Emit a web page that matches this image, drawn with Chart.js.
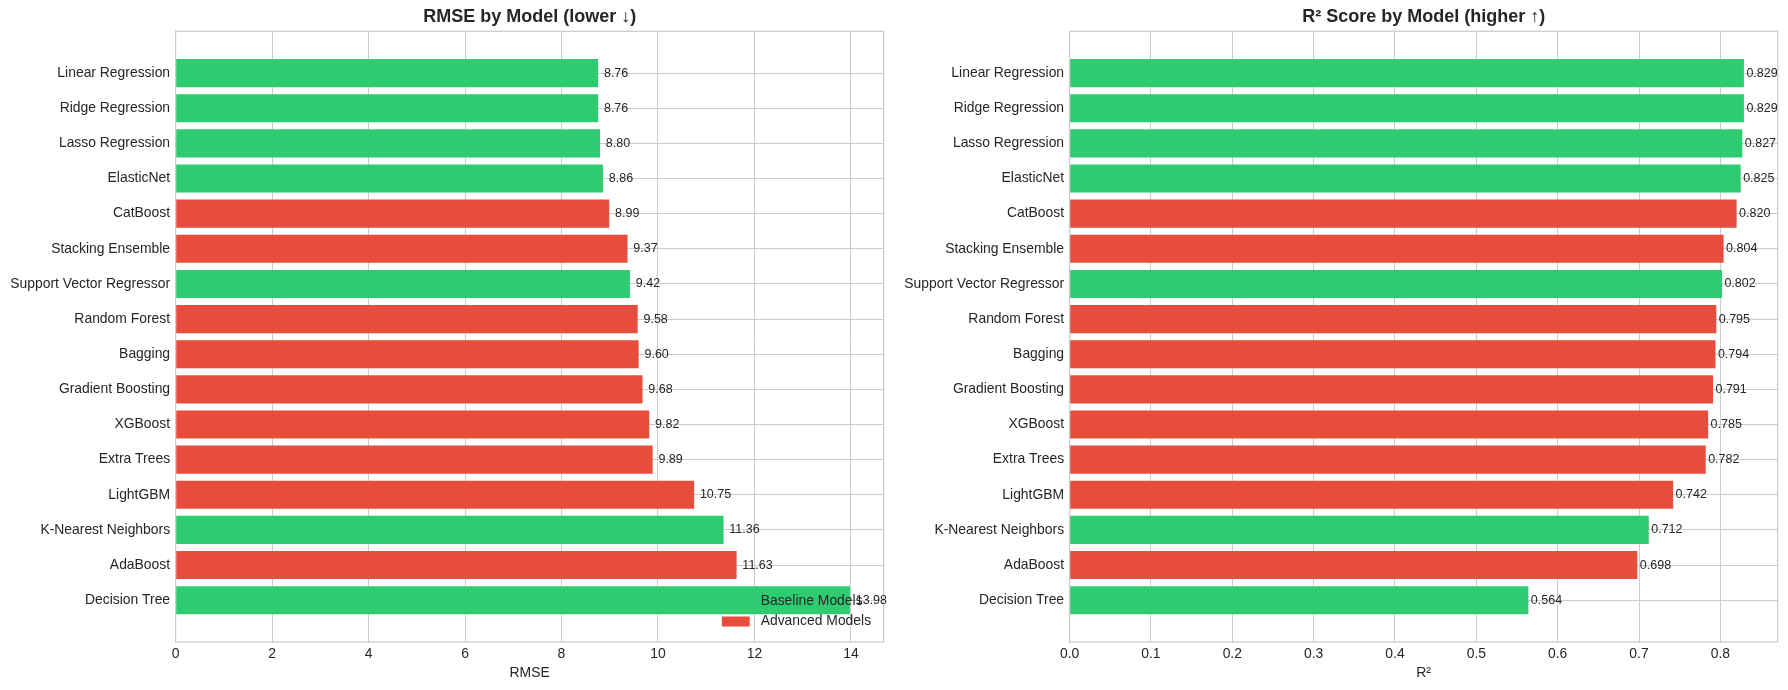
<!DOCTYPE html>
<html>
<head>
<meta charset="utf-8">
<script src="https://cdn.jsdelivr.net/npm/chart.js@4.4.0/dist/chart.umd.min.js"></script>
<style>
    body { margin: 0; background: #ffffff; }
    #wrap { position: relative; width: 1788px; height: 690px; }
    canvas { position: absolute; top: 0; }
</style>
</head>
<body>
<div id="wrap">
    <canvas id="rmse-chart" width="894" height="690" style="left:0"></canvas>
    <canvas id="r2-chart" width="894" height="690" style="left:894px"></canvas>
</div>
<script>
// 模型名称
const models = [
    'Linear Regression', 'Ridge Regression', 'Lasso Regression', 'ElasticNet',
    'CatBoost', 'Stacking Ensemble', 'Support Vector Regressor', 'Random Forest',
    'Bagging', 'Gradient Boosting', 'XGBoost', 'Extra Trees',
    'LightGBM', 'K-Nearest Neighbors', 'AdaBoost', 'Decision Tree'
];
// RMSE 数值
const rmseValues = [8.76, 8.76, 8.80, 8.86, 8.99, 9.37, 9.42, 9.58, 9.60, 9.68, 9.82, 9.89, 10.75, 11.36, 11.63, 13.98];
// R² 数值
const r2Values = [0.829, 0.829, 0.827, 0.825, 0.820, 0.804, 0.802, 0.795, 0.794, 0.791, 0.785, 0.782, 0.742, 0.712, 0.698, 0.564];
// 是否为基础模型
const isBaseline = [true, true, true, true, false, false, true, false, false, false, false, false, false, true, false, true];
// 图例
const legendLabels = ['Baseline Models', 'Advanced Models'];

const GREEN = '#2ecc71';
const RED = '#e74c3c';
const TEXT = '#262626';
const GRID = '#cccccc';
const FONT = "'Liberation Sans', Arial, sans-serif";

const barColors = isBaseline.map(b => b ? GREEN : RED);

// 边框 + 数值标签
const frameAndLabels = {
    id: 'frameAndLabels',
    afterDatasetsDraw(chart, args, opts) {
        const ctx = chart.ctx;
        const area = chart.chartArea;
        ctx.save();
        ctx.strokeStyle = GRID;
        ctx.lineWidth = 1.25;
        ctx.strokeRect(area.left, area.top, area.right - area.left, area.bottom - area.top);

        const xScale = chart.scales.x;
        const meta = chart.getDatasetMeta(0);
        const values = chart.data.datasets[0].data;
        ctx.fillStyle = TEXT;
        ctx.font = '12.5px ' + FONT;
        ctx.textAlign = 'left';
        ctx.textBaseline = 'middle';
        meta.data.forEach((bar, i) => {
            const v = values[i].x;
            const x = xScale.getPixelForValue(v + opts.offset);
            ctx.fillText(opts.format(v), x, bar.y);
        });
        ctx.restore();
    }
};

// 图例(画在绘图区右下角)
const cornerLegend = {
    id: 'cornerLegend',
    afterDraw(chart, args, opts) {
        if (!opts.show) return;
        const ctx = chart.ctx;
        const area = chart.chartArea;
        ctx.save();
        ctx.font = '13.9px ' + FONT;
        const textW = Math.max(...legendLabels.map(t => ctx.measureText(t).width));
        const textLeft = area.right - 12.6 - textW;
        const handleLeft = textLeft - 11 - 27.8;
        const rows = [area.bottom - 41, area.bottom - 20.5];
        const colors = [GREEN, RED];
        legendLabels.forEach((label, i) => {
            ctx.fillStyle = colors[i];
            ctx.fillRect(handleLeft, rows[i] - 5, 27.8, 10);
            ctx.fillStyle = TEXT;
            ctx.textAlign = 'left';
            ctx.textBaseline = 'middle';
            ctx.fillText(label, textLeft, rows[i]);
        });
        ctx.restore();
    }
};

function createBarChart(canvasId, values, title, axisTitle, xMax, step, tickFormat, labelFormat, labelOffset, showLegend) {
    const canvas = document.getElementById(canvasId);

    return new Chart(canvas, {
        type: 'bar',
        data: {
            datasets: [{
                data: values.map((v, i) => ({ x: v, y: i })),
                backgroundColor: barColors,
                borderWidth: 0,
                categoryPercentage: 1,
                barPercentage: 0.8
            }]
        },
        options: {
            indexAxis: 'y',
            responsive: false,
            animation: false,
            devicePixelRatio: 1,
            layout: {
                padding: { left: 0, right: 10.3, top: 0, bottom: 0 }
            },
            scales: {
                x: {
                    type: 'linear',
                    min: 0,
                    max: xMax,
                    border: { display: false },
                    grid: { color: GRID, lineWidth: 1, drawTicks: false },
                    ticks: {
                        stepSize: step,
                        includeBounds: false,
                        padding: 4,
                        color: TEXT,
                        font: { family: FONT, size: 13.9 },
                        callback: tickFormat
                    },
                    title: {
                        display: true,
                        text: axisTitle,
                        color: TEXT,
                        font: { family: FONT, size: 13.9 },
                        padding: { top: 0, bottom: 8 }
                    },
                    afterFit(scale) { scale.height = 48; }
                },
                y: {
                    type: 'linear',
                    reverse: true,
                    offset: false,
                    bounds: 'data',
                    min: -1.19,
                    max: 16.19,
                    border: { display: false },
                    grid: { color: GRID, lineWidth: 1, drawTicks: false, offset: false },
                    ticks: {
                        padding: 5.5,
                        color: TEXT,
                        font: { family: FONT, size: 13.9 },
                        callback: value => models[value]
                    },
                    afterBuildTicks(scale) {
                        scale.ticks = models.map((m, i) => ({ value: i }));
                    },
                    afterFit(scale) { scale.width = 175.6; }
                }
            },
            plugins: {
                legend: { display: false },
                tooltip: { enabled: false },
                title: {
                    display: true,
                    text: title,
                    fullSize: false,
                    color: TEXT,
                    font: { family: FONT, size: 18, weight: 'bold', lineHeight: 1.2 },
                    padding: { top: 6.3, bottom: 3.4 }
                },
                frameAndLabels: { offset: labelOffset, format: labelFormat },
                cornerLegend: { show: showLegend }
            }
        },
        plugins: [frameAndLabels, cornerLegend]
    });
}

// 左图: RMSE
createBarChart('rmse-chart', rmseValues, 'RMSE by Model (lower ↓)', 'RMSE',
    14.68, 2, v => String(Math.round(v)), v => v.toFixed(2), 0.12, true);

// 右图: R²
createBarChart('r2-chart', r2Values, 'R² Score by Model (higher ↑)', 'R²',
    0.8705, 0.1, v => Number(v).toFixed(1), v => v.toFixed(3), 0.003, false);
</script>
</body>
</html>
